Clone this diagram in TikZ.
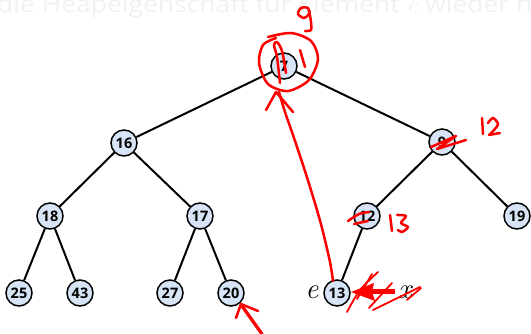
\documentclass[tikz,border=0pt]{standalone}
\usepackage{fontspec}
\newfontfamily\numfont{Open Sans}
\usetikzlibrary{arrows.meta}
\definecolor{nodefill}{HTML}{D6E4F5}
\definecolor{faint}{HTML}{F1F1F1}
\definecolor{faintpink}{HTML}{F6EDF6}
\definecolor{ink}{HTML}{FF0000}
\tikzset{
  hnode/.style={circle, draw=black, line width=1.5pt, fill=nodefill, minimum size=26pt, inner sep=0pt, font=\numfont\bfseries\fontsize{14.5}{14.5}\selectfont},
  edge/.style={line width=2pt, black},
  pen/.style={ink, line width=2.5pt, line cap=round, line join=round},
  mathlbl/.style={font=\fontsize{29}{29}\selectfont\itshape, inner sep=0pt},
}
\begin{document}
\begin{tikzpicture}[x=1pt,y=-1pt]
\useasboundingbox (0,0) rectangle (531,334);
\begin{scope}
\clip (0,0) rectangle (531,334);
\node[anchor=base west, inner sep=0pt, text=faint, font=\numfont\fontsize{23}{23}\selectfont] (title) at (-3,13) {\scalebox{1.15}[1]{die Heapeigenschaft für Element \textcolor{faintpink}{\normalfont\itshape e} wieder h}};
\end{scope}
% nodes
\node[hnode] (n7) at (284,66) {7};
\node[hnode] (n16) at (124,143) {16};
\node[hnode] (n9) at (442,142) {9};
\node[hnode] (n18) at (50,216) {18};
\node[hnode] (n17) at (200,216) {17};
\node[hnode] (n12) at (367,216) {12};
\node[hnode] (n19) at (517,216) {19};
\node[hnode] (n25) at (19,293) {25};
\node[hnode] (n43) at (80,293) {43};
\node[hnode] (n27) at (170,293) {27};
\node[hnode] (n20) at (231,293) {20};
\node[hnode] (n13) at (337,293) {13};
\node[mathlbl] (le) at (312,292) {e};
\node[mathlbl] (lx) at (405,292) {x};
% edges
\draw[edge] (n7) -- (n16);
\draw[edge] (n7) -- (n9);
\draw[edge] (n16) -- (n18);
\draw[edge] (n16) -- (n17);
\draw[edge] (n9) -- (n12);
\draw[edge] (n9) -- (n19);
\draw[edge] (n18) -- (n25);
\draw[edge] (n18) -- (n43);
\draw[edge] (n17) -- (n27);
\draw[edge] (n17) -- (n20);
\draw[edge] (n12) -- (n13);
% red annotations
\draw[pen] plot[smooth] coordinates {(268,37) (291,33) (311,41) (318,59) (309,80) (288,91) (268,84) (259,63) (263,45) (276,38)};
\draw[pen] plot[smooth] coordinates {(280,83) (277,57) (274,45) (277,42) (282,51) (286,73)};
\draw[pen] (300,50) -- (305,67);
% 9 on top
\draw[pen] plot[smooth cycle] coordinates {(308,8) (301,8) (298,14) (304,18) (309,14)};
\draw[pen] plot[smooth] coordinates {(309,10) (311,22) (311,30) (305,31)};
% long line from 13 to 7
\draw[pen] plot[smooth] coordinates {(333,281) (330,262) (322,228) (314,200) (304,168) (294,138) (285,112) (279,92)};
\draw[pen] (266,110) -- (276,92) -- (293,112);
% 12 beside 9
\draw[pen] (482,118) -- (483,134);
\draw[pen] plot[smooth] coordinates {(488,123) (493,118) (498,124) (494,130) (489,135)} -- (500,133);
% scribble on 9
\draw[pen] (431,147) -- (456,136) -- (437,149) -- (466,140);
% scribble on 12
\draw[pen] plot[smooth] coordinates {(348,221) (359,214) (369,212)};
\draw[pen] (354,224) -- (368,221);
% 13 beside 12
\draw[pen] (390,215) -- (392,231);
\draw[pen] plot[smooth] coordinates {(397,215) (406,216) (401,223) (408,227) (402,232) (398,230)};
% thick arrow into 13
\draw[ink, line width=5pt] (395,292) -- (370,292);
\fill[ink] (351,292) -- (374,283) -- (372,292) -- (375,301) -- cycle;
\draw[pen, line width=1.8pt] plot[smooth] coordinates {(347,312) (360,290) (378,272)};
\draw[pen, line width=1.8pt] (357,299) -- (372,274);
\draw[pen, line width=1.8pt] (369,308) -- (392,283);
\draw[pen, line width=1.8pt] (373,310) -- (420,287);
\draw[pen, line width=1.8pt] (407,300) -- (421,288);
% arrow near 20
\draw[pen, line width=3.2pt] (262,334) -- (242,306);
\draw[pen] (236,318) -- (241,304) -- (258,311);
\end{tikzpicture}
\end{document}
